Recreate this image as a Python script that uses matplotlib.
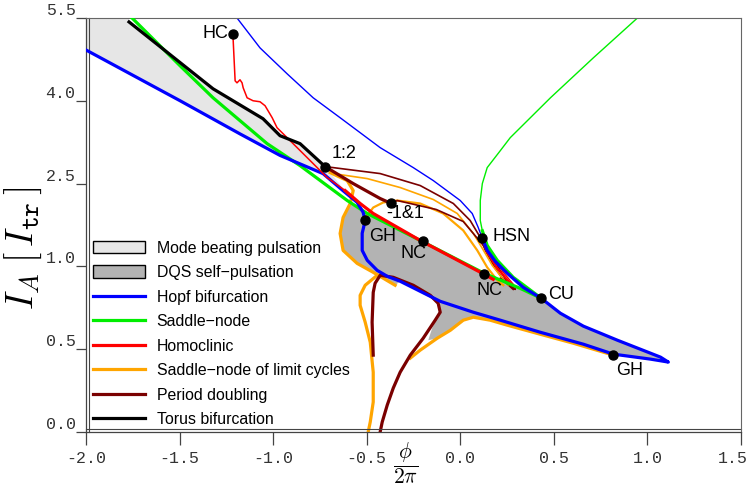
import numpy as np
import matplotlib
matplotlib.use("Agg")
import matplotlib.pyplot as plt
from matplotlib.patches import Patch, Polygon
from matplotlib.lines import Line2D
from matplotlib.transforms import ScaledTranslation

plt.rcParams["mathtext.fontset"] = "cm"

# ---- bifurcation curves (phase phi/2pi, injected current I_A) ----
hopf_x = [-2.0, -1.497, -1.177, -0.963, -0.733, -0.626, -0.551, -0.519, -0.508, -0.524, -0.524,
          -0.497, -0.444, -0.390, -0.321, -0.107, 0.070, 0.214, 0.428, 0.658, 0.818, 1.016, 1.070,
          1.112, 1.070, 1.016, 0.840, 0.658, 0.535, 0.433, 0.337, 0.251, 0.187, 0.144, 0.118]
hopf_y = [4.92, 4.00, 3.40, 3.01, 2.68, 2.37, 2.16, 1.98, 1.83, 1.60, 1.29,
          1.11, 0.976, 0.94, 0.91, 0.789, 0.723, 0.675, 0.602, 0.530, 0.470, 0.440, 0.430,
          0.422, 0.452, 0.476, 0.554, 0.639, 0.717, 0.807, 0.873, 0.958, 1.09, 1.29, 1.51]

hopf_upper_x = [-1.193, -1.070, -0.925, -0.786, -0.642, -0.428, -0.251, -0.144, 0.0, 0.064, 0.096, 0.118]
hopf_upper_y = [5.5, 4.958, 4.488, 4.054, 3.693, 3.151, 2.789, 2.554, 2.193, 1.958, 1.705, 1.506]

sn_x = [-1.754, -1.497, -1.321, -1.032, -0.856, -0.604, -0.497, -0.214, 0.128, 0.321, 0.433]
sn_y = [5.5, 4.633, 4.054, 3.223, 2.825, 2.193, 1.958, 1.470, 0.958, 0.867, 0.807]

sn_cusp_x = [0.433, 0.412, 0.283, 0.198, 0.144, 0.118]
sn_cusp_y = [0.807, 0.825, 0.934, 1.108, 1.380, 1.645]

sn_upper_x = [0.118, 0.107, 0.107, 0.118, 0.144, 0.214, 0.267, 0.482, 0.711, 0.947]
sn_upper_y = [1.645, 1.831, 2.193, 2.500, 2.789, 3.096, 3.331, 4.054, 4.777, 5.5]

torus_x = [-1.770, -1.321, -1.054, -0.963, -0.856, -0.722]
torus_y = [5.428, 4.217, 3.675, 3.367, 3.223, 2.807]

hom_x = [-1.214, -1.203, -1.193, -1.177, -1.166, -1.160, -1.139, -1.107, -1.070, -1.043,
         -1.005, -0.979, -0.893, -0.802, -0.711, -0.615]
hom_y = [5.139, 4.361, 4.325, 4.380, 4.325, 4.235, 4.054, 4.0, 3.982, 3.910,
         3.693, 3.512, 3.223, 2.916, 2.608, 2.373]
hom_thick_x = [-0.615, -0.535, -0.465, -0.214, 0.128, 0.176]
hom_thick_y = [2.373, 2.139, 1.958, 1.470, 0.952, 0.922]
hom_cusp1_x = [0.118, 0.144, 0.198, 0.267]
hom_cusp1_y = [1.506, 1.253, 0.988, 0.898]
hom_cusp2_x = [0.118, 0.171, 0.230, 0.283]
hom_cusp2_y = [1.506, 1.199, 0.964, 0.892]

snlc_a_x = [-0.679, -0.497, -0.321, -0.144, -0.016, 0.070, 0.118, 0.171, 0.225, 0.257]
snlc_a_y = [2.681, 2.590, 2.428, 2.211, 1.958, 1.596, 1.325, 1.018, 0.928, 0.886]
snlc_b_x = [-0.497, -0.465, -0.412, -0.337, -0.214, -0.091, 0.016, 0.091, 0.144, 0.198, 0.230]
snlc_b_y = [1.922, 2.066, 2.157, 2.193, 2.139, 1.958, 1.651, 1.289, 0.994, 0.916, 0.886]
snlc_c_x = [-0.695, -0.604, -0.572, -0.588, -0.626, -0.642, -0.626, -0.551, -0.465, -0.348]
snlc_c_y = [2.699, 2.554, 2.373, 2.139, 1.886, 1.596, 1.289, 1.054, 0.964, 0.886]
snlc_d_x = [-0.444, -0.508, -0.535, -0.535, -0.508, -0.481, -0.465, -0.465, -0.481, -0.492]
snlc_d_y = [0.946, 0.886, 0.825, 0.765, 0.663, 0.542, 0.361, 0.181, 0.060, 0.0]
snlc_e_x = [-0.267, -0.214, -0.123, -0.053, 0.016, 0.070, 0.160, 0.251, 0.428, 0.604, 0.818]
snlc_e_y = [0.446, 0.494, 0.566, 0.614, 0.675, 0.693, 0.675, 0.645, 0.590, 0.536, 0.464]

pd_a_x = [-0.722, -0.679, -0.428, -0.214, -0.037, 0.053, 0.107, 0.134, 0.187, 0.241, 0.283]
pd_a_y = [2.807, 2.789, 2.681, 2.464, 2.139, 1.831, 1.524, 1.289, 0.988, 0.904, 0.861]
pd_b_x = [-0.722, -0.572, -0.428, -0.369]
pd_b_y = [2.807, 2.500, 2.229, 2.139]
pd_c_x = [-0.369, -0.337, -0.128, 0.016, 0.123, 0.198, 0.251, 0.294, 0.214]
pd_c_y = [2.139, 2.193, 2.030, 1.813, 1.380, 1.018, 0.904, 0.861, 0.928]
pd_d_x = [-0.428, -0.417, -0.390, -0.358, -0.321, -0.267, -0.198, -0.134, -0.107, -0.118,
          -0.160, -0.251, -0.358, -0.428, -0.455, -0.465, -0.471, -0.465]
pd_d_y = [0.0, 0.060, 0.163, 0.265, 0.361, 0.464, 0.566, 0.675, 0.723, 0.777,
          0.825, 0.886, 0.934, 0.946, 0.898, 0.843, 0.663, 0.464]

# ---- regions ----
mb_x = [-2.0, -1.770, -1.770, -1.321, -1.054, -0.963, -0.856, -0.722, -0.615, -0.535,
        -0.551, -0.626, -0.733, -0.963, -1.177, -1.497, -2.0]
mb_y = [5.5, 5.5, 5.428, 4.217, 3.675, 3.367, 3.223, 2.807, 2.373, 2.139,
        2.157, 2.373, 2.681, 3.006, 3.404, 4.0, 4.922]

dqs_x = [-0.588, -0.497, -0.214, 0.128, 0.321, 0.433, 0.535, 0.658, 0.840, 1.016, 1.070, 1.112,
         1.016, 0.818, 0.604, 0.428, 0.251, 0.160, 0.070, 0.016, -0.053, -0.123, -0.171,
         -0.150, -0.118, -0.107, -0.321, -0.348, -0.465, -0.551, -0.626, -0.642, -0.626]
dqs_y = [2.139, 1.958, 1.470, 0.952, 0.867, 0.807, 0.717, 0.639, 0.554, 0.476, 0.452, 0.422,
         0.440, 0.464, 0.536, 0.590, 0.645, 0.675, 0.693, 0.675, 0.614, 0.566, 0.554,
         0.627, 0.705, 0.777, 0.910, 0.886, 0.964, 1.054, 1.289, 1.596, 1.886]

# ---- special points ----
pt_names = ["HC", "1:2", "-1&1", "GH", "NC", "HSN", "NC", "CU", "GH"]
pt_x = [-1.214, -0.722, -0.369, -0.508, -0.198, 0.118, 0.128, 0.433, 0.818]
pt_y = [5.211, 2.807, 2.139, 1.831, 1.452, 1.506, 0.952, 0.807, 0.464]
# label offsets in pixels (dx, dy) and horizontal alignment
pt_offsets = [(-5, 0, "right"), (19, 13, "center"), (14, -10, "center"), (17, -16, "center"),
              (-10, -12, "center"), (29, 2, "center"), (5, -16, "center"), (20, 4, "center"),
              (16, -15, "center")]

x_ticks = [-2.0, -1.5, -1.0, -0.5, 0.0, 0.5, 1.0, 1.5]
y_ticks = [0.0, 0.5, 1.0, 2.5, 4.0, 5.5]

c_blue, c_green, c_red = "#0000ff", "#00ee00", "#ff0000"
c_orange, c_pd, c_black = "#ffa500", "#7a0000", "#000000"


def fwd(y):
    y = np.asarray(y, dtype=float)
    return np.where(y <= 1, y, 1 + (y - 1) / 3.0)


def inv(t):
    t = np.asarray(t, dtype=float)
    return np.where(t <= 1, t, 1 + 3.0 * (t - 1))


fig = plt.figure(figsize=(7.47, 4.88), dpi=100)
ax = fig.add_axes([0.1151, 0.1148, 0.8768, 0.8484])
ax.set_yscale("function", functions=(fwd, inv))
ax.set_xlim(-2.0, 1.5)
ax.set_ylim(0.0, 5.5)

ax.add_patch(Polygon(np.column_stack([mb_x, mb_y]), closed=True, fc="#e6e6e6", ec="none", zorder=1))
ax.add_patch(Polygon(np.column_stack([dqs_x, dqs_y]), closed=True, fc="#b3b3b3", ec="none", zorder=1))

thick, thin = 2.3, 1.0
ax.plot(hopf_upper_x, hopf_upper_y, color=c_blue, lw=thin, zorder=2)
ax.plot(sn_upper_x, sn_upper_y, color=c_green, lw=thin, zorder=2)
ax.plot(pd_a_x, pd_a_y, color=c_pd, lw=1.2, zorder=2)
ax.plot(snlc_a_x, snlc_a_y, color=c_orange, lw=1.2, zorder=2)
ax.plot(snlc_b_x, snlc_b_y, color=c_orange, lw=1.6, zorder=2)
ax.plot(pd_c_x, pd_c_y, color=c_pd, lw=1.2, zorder=2)
ax.plot(hom_cusp1_x, hom_cusp1_y, color=c_red, lw=1.6, zorder=3)
ax.plot(hom_cusp2_x, hom_cusp2_y, color=c_red, lw=1.0, zorder=3)
ax.plot(snlc_c_x, snlc_c_y, color=c_orange, lw=thick, zorder=2)
ax.plot(snlc_d_x, snlc_d_y, color=c_orange, lw=thick, zorder=2)
ax.plot(snlc_e_x, snlc_e_y, color=c_orange, lw=thick, zorder=2)
ax.plot(pd_d_x, pd_d_y, color=c_pd, lw=thick, zorder=2)
ax.plot(sn_x, sn_y, color=c_green, lw=thick, zorder=3)
ax.plot(sn_cusp_x, sn_cusp_y, color=c_green, lw=thick, zorder=3)
ax.plot(hopf_x, hopf_y, color=c_blue, lw=thick, zorder=3)
ax.plot(hom_x, hom_y, color=c_red, lw=1.1, zorder=3)
ax.plot(hom_thick_x, hom_thick_y, color=c_red, lw=thick, zorder=3)
ax.plot(pd_b_x, pd_b_y, color=c_pd, lw=thick, zorder=3)
ax.plot(torus_x, torus_y, color=c_black, lw=thick, zorder=3)

ax.plot(pt_x, pt_y, "o", color="black", ms=6.5, zorder=5)
for name, x, y, (dx, dy, ha) in zip(pt_names, pt_x, pt_y, pt_offsets):
    ax.annotate(name, (x, y), xytext=(dx, dy), textcoords="offset pixels",
                ha=ha, va="center", fontsize=13, family="Liberation Sans", zorder=6)

# axes frame: doubled left/bottom rule, thin top/right
frame_col = "#444444"
for side in ["left", "bottom"]:
    ax.spines[side].set_color(frame_col)
    ax.spines[side].set_linewidth(0.9)
for side in ["top", "right"]:
    ax.spines[side].set_color("#666666")
    ax.spines[side].set_linewidth(0.8)
shift_x = ScaledTranslation(2.2 / 72, 0, fig.dpi_scale_trans)
shift_y = ScaledTranslation(0, 2.2 / 72, fig.dpi_scale_trans)
ax.plot([0, 0], [0, 1], transform=ax.transAxes + shift_x, color=frame_col, lw=0.8, clip_on=False)
ax.plot([0, 1], [0, 0], transform=ax.transAxes + shift_y, color=frame_col, lw=0.8, clip_on=False)

ax.set_xticks(x_ticks)
ax.set_xticklabels([f"{v:.1f}" for v in x_ticks])
ax.set_yticks(y_ticks)
ax.set_yticklabels([f"{v:.1f}" for v in y_ticks])
ax.yaxis.set_minor_locator(matplotlib.ticker.NullLocator())
ax.tick_params(axis="both", direction="out", color=frame_col, labelcolor="#333333",
               labelsize=12, width=0.9)
ax.tick_params(axis="x", length=9, pad=5)
ax.tick_params(axis="y", length=7.5, pad=0)
for lab in ax.get_xticklabels() + ax.get_yticklabels():
    lab.set_family("Liberation Mono")
for lab in ax.get_yticklabels():
    lab.set_verticalalignment("bottom")
# last x label sits flush with the right edge of the figure
ax.get_xticklabels()[-1].set_horizontalalignment("right")
ax.get_xticklabels()[-1].set_x(x_ticks[-1])
last_lab = ax.xaxis.get_major_ticks()[-1].label1
last_lab.set_transform(last_lab.get_transform() + ScaledTranslation(5 / 72, 0, fig.dpi_scale_trans))

fig.text(23 / 747, (488 - 248) / 488, r"$I_A\;[\,I_{\mathtt{tr}}\,]$", fontsize=27,
         rotation=90, ha="center", va="center")
fig.text(406 / 747, 0.05, r"$\dfrac{\phi}{2\pi}$", fontsize=15.5, ha="center", va="center")

handles = [
    Patch(facecolor="#e6e6e6", edgecolor="black", lw=1.0),
    Patch(facecolor="#b3b3b3", edgecolor="black", lw=1.0),
    Line2D([], [], color=c_blue, lw=thick),
    Line2D([], [], color=c_green, lw=thick),
    Line2D([], [], color=c_red, lw=thick),
    Line2D([], [], color=c_orange, lw=thick),
    Line2D([], [], color=c_pd, lw=thick),
    Line2D([], [], color=c_black, lw=thick),
]
labels = ["Mode beating pulsation", "DQS self\u2212pulsation", "Hopf bifurcation",
          "Saddle\u2212node", "Homoclinic", "Saddle\u2212node of limit cycles",
          "Period doubling", "Torus bifurcation"]
ax.legend(handles, labels, loc="lower left", bbox_to_anchor=(0.01, 0.012), frameon=False,
          prop={"family": "Liberation Sans", "size": 11.4}, handlelength=3.3, handleheight=0.85,
          handletextpad=0.75, labelspacing=0.6, borderpad=0, borderaxespad=0)

fig.savefig("out.png", dpi=100)
